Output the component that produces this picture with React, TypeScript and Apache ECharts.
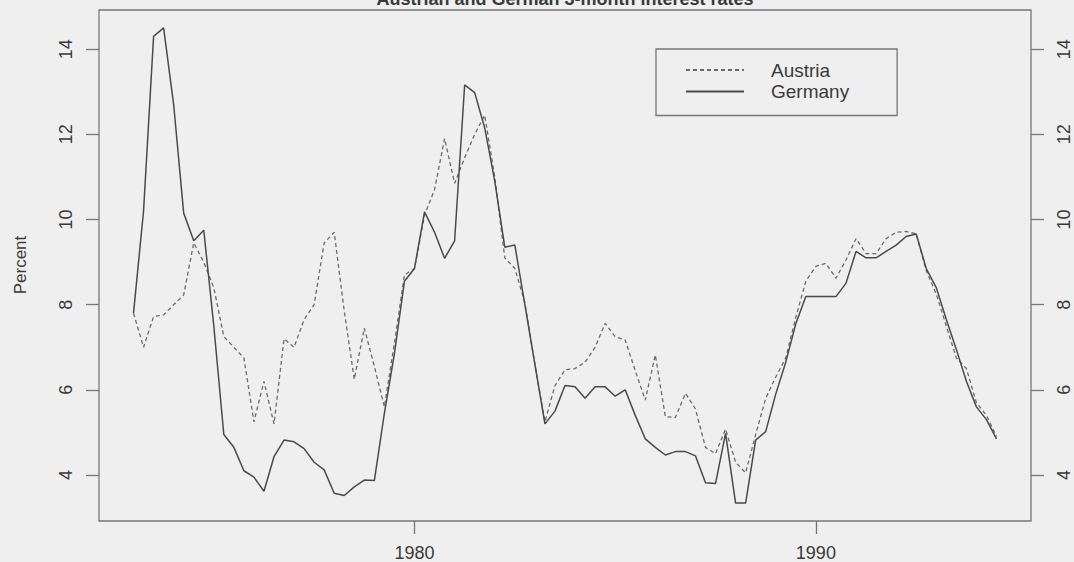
import { useEffect, useRef } from "react";
import * as echarts from "echarts";

// Quarterly 3-month money market rates, percent, 1973Q1 .. 1994Q3
const START_YEAR = 1973;
const PERIODS_PER_YEAR = 4;

const austria = [
  7.8, 7.0, 7.72, 7.76, 8.0, 8.23, 9.45, 9.0, 8.4, 7.25,
  7.0, 6.75, 5.25, 6.2, 5.2, 7.2, 7.0, 7.65, 8.0, 9.45,
  9.7, 7.85, 6.25, 7.45, 6.55, 5.6, 7.1, 8.7, 8.85, 10.1,
  10.7, 11.9, 10.85, 11.45, 12.0, 12.45, 11.0, 9.1, 8.85, 8.05,
  6.6, 5.25, 6.1, 6.47, 6.5, 6.65, 7.0, 7.56, 7.25, 7.17,
  6.45, 5.76, 6.82, 5.37, 5.35, 5.92, 5.55, 4.65, 4.5, 5.08,
  4.3, 4.05, 4.95, 5.8, 6.3, 6.75, 7.7, 8.55, 8.9, 8.97,
  8.62, 9.05, 9.55, 9.2, 9.2, 9.55, 9.7, 9.72, 9.66, 8.8,
  8.25, 7.5, 6.75, 6.5, 5.7, 5.4, 4.9,
];

const germany = [
  7.8, 10.2, 14.3, 14.5, 12.7, 10.15, 9.5, 9.75, 7.5, 4.95,
  4.65, 4.1, 3.95, 3.62, 4.43, 4.82, 4.78, 4.62, 4.3, 4.12,
  3.57, 3.52, 3.72, 3.88, 3.87, 5.45, 6.85, 8.55, 8.85, 10.18,
  9.7, 9.09, 9.5, 13.16, 12.98, 12.15, 10.9, 9.35, 9.4, 8.0,
  6.6, 5.2, 5.5, 6.1, 6.07, 5.8, 6.07, 6.07, 5.85, 6.0,
  5.4, 4.85, 4.65, 4.47, 4.55, 4.55, 4.45, 3.82, 3.8, 4.98,
  3.34, 3.34, 4.82, 5.02, 5.9, 6.65, 7.55, 8.19, 8.19, 8.19,
  8.19, 8.5, 9.25, 9.1, 9.1, 9.25, 9.4, 9.6, 9.66, 8.85,
  8.4, 7.65, 6.95, 6.2, 5.6, 5.3, 4.85,
];

const xTickYears = [1980, 1990];
const yTicks = [4, 6, 8, 10, 12, 14];

const X_MIN = 1972.14;
const X_MAX = 1995.36;
const Y_MIN = 2.92;
const Y_MAX = 14.92;

const FONT = "'Liberation Sans', Arial, Helvetica, sans-serif";
const INK = "#3a3a3a";
const FRAME = "#767676";

const toPairs = (values: number[]) =>
  values.map((v, i) => [START_YEAR + i / PERIODS_PER_YEAR, v]);

function makeYAxis(position: "left" | "right") {
  return {
    type: "value",
    position,
    min: Y_MIN,
    max: Y_MAX,
    axisLine: { show: false },
    splitLine: { show: false },
    axisTick: {
      show: true,
      length: 13,
      customValues: yTicks,
      lineStyle: { color: FRAME, width: 1.3 },
    },
    axisLabel: {
      customValues: yTicks,
      rotate: 90,
      margin: 24,
      fontSize: 18,
      color: INK,
      fontFamily: FONT,
      formatter: (v: number) => String(v),
    },
  };
}

export default function App() {
  const ref = useRef<HTMLDivElement>(null);

  useEffect(() => {
    if (!ref.current) return;
    const chart = echarts.init(ref.current, undefined, { renderer: "svg" });
    chart.setOption({
      animation: false,
      backgroundColor: "#efefef",
      textStyle: { fontFamily: FONT },
      grid: {
        left: 99,
        right: 43,
        top: 10,
        bottom: 41,
        show: true,
        borderColor: FRAME,
        borderWidth: 1.3,
        backgroundColor: "transparent",
      },
      xAxis: {
        type: "value",
        min: X_MIN,
        max: X_MAX,
        axisLine: { show: false },
        splitLine: { show: false },
        axisTick: {
          show: true,
          length: 13,
          customValues: xTickYears,
          lineStyle: { color: FRAME, width: 1.3 },
        },
        axisLabel: {
          customValues: xTickYears,
          margin: 23,
          fontSize: 18,
          color: INK,
          fontFamily: FONT,
          formatter: (v: number) => String(v),
        },
      },
      yAxis: [makeYAxis("left"), makeYAxis("right")],
      legend: {
        show: true,
        orient: "vertical",
        left: 656,
        top: 49,
        padding: [11, 48, 14, 29],
        itemWidth: 58,
        itemHeight: 14,
        itemGap: 1.5,
        borderColor: FRAME,
        borderWidth: 1.3,
        borderRadius: 0,
        selectedMode: false,
        itemStyle: { opacity: 0 },
        data: ["Austria", "Germany"],
        textStyle: {
          fontSize: 19,
          lineHeight: 20,
          color: INK,
          fontFamily: FONT,
          padding: [0, 0, 0, 22],
        },
      },
      graphic: [
        {
          type: "text",
          x: 565,
          y: -1,
          style: {
            text: "Austrian and German 3-month interest rates",
            fontSize: 18,
            fontWeight: "bold",
            fontFamily: FONT,
            fill: INK,
            align: "center",
            verticalAlign: "middle",
          },
        },
        {
          type: "text",
          x: 20,
          y: 265,
          rotation: Math.PI / 2,
          style: {
            text: "Percent",
            fontSize: 17,
            fontFamily: FONT,
            fill: INK,
            align: "center",
            verticalAlign: "middle",
          },
        },
      ],
      series: [
        {
          name: "Austria",
          type: "line",
          data: toPairs(austria),
          symbol: "none",
          color: "#6a6a6a",
          lineStyle: { color: "#6a6a6a", width: 1.3, type: [4, 3] },
          z: 2,
        },
        {
          name: "Germany",
          type: "line",
          data: toPairs(germany),
          symbol: "none",
          color: "#4a4a4a",
          lineStyle: { color: "#4a4a4a", width: 1.5, type: "solid" },
          z: 3,
        },
      ],
    });
    return () => chart.dispose();
  }, []);

  return (
    <div
      ref={ref}
      style={{
        position: "fixed",
        left: 0,
        top: 0,
        width: 1074,
        height: 562,
        background: "#efefef",
      }}
    />
  );
}
